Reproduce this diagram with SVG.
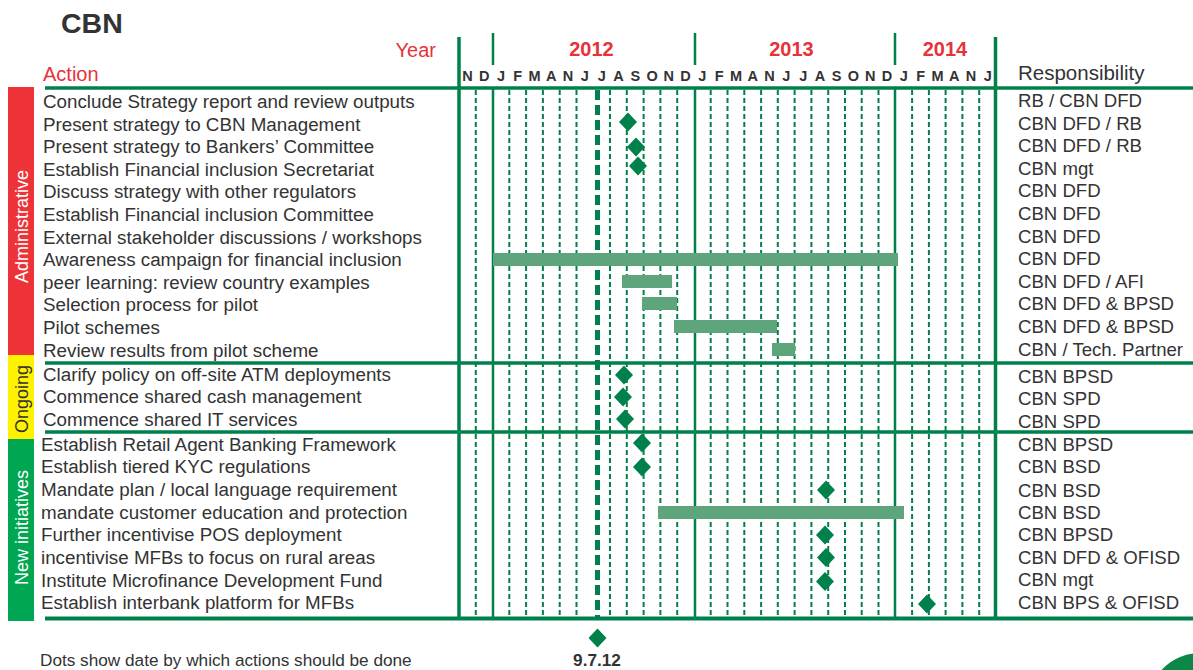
<svg xmlns="http://www.w3.org/2000/svg" width="1193" height="670" viewBox="0 0 1193 670">
  <style>
    text { font-family: "Liberation Sans", Arial, Helvetica, sans-serif; }
    .title { font-size: 28.5px; font-weight: bold; fill: #333333; }
    .hdr { font-size: 20px; fill: #e8323a; }
    .resph { font-size: 20.5px; fill: #333333; }
    .yr { font-size: 20px; font-weight: bold; fill: #e8323a; text-anchor: middle; }
    .mon { font-size: 14.5px; font-weight: bold; fill: #333333; text-anchor: middle; }
    .act { font-size: 18.8px; fill: #333333; }
    .resp { font-size: 18.6px; fill: #333333; }
    .band { font-size: 18px; text-anchor: middle; }
    .legend { font-size: 17.2px; fill: #333333; }
    .rule { stroke: #00804a; fill: none; }
    .grid { stroke: #00804a; stroke-width: 2; stroke-dasharray: 5 3; fill: none; }
    .today { stroke: #00804a; stroke-width: 5; stroke-dasharray: 10 5; fill: none; }
    .bar { fill: #5fa57b; }
    .ms { fill: #00804a; }
  </style>
  <defs>
    <path id="dia" d="M0,-9.5 L9,0 L0,9.5 L-9,0 Z"/>
  </defs>

  <rect width="1193" height="670" fill="#ffffff"/>

  <!-- title and column headers -->
  <g id="header">
    <text class="title" x="61" y="33">CBN</text>
    <text class="hdr" x="436" y="57" text-anchor="end">Year</text>
    <text class="hdr" x="43" y="81">Action</text>
    <text class="resph" x="1018" y="79.5">Responsibility</text>
    <text class="yr" x="591.5" y="56">2012</text>
    <text class="yr" x="791.5" y="56">2013</text>
    <text class="yr" x="945" y="56">2014</text>
    <text class="mon" y="80.5" x="467.4 484.2 501.0 517.7 534.5 551.3 568.1 584.9 601.7 618.5 635.3 652.1 668.8 685.6 702.4 719.2 736.0 752.8 769.6 786.4 803.2 819.9 836.7 853.5 870.3 887.1 903.9 920.7 937.5 954.3 971.0 987.8">NDJFMANJJASONDJFMANJJASONDJFMANJ</text>
  </g>

  <!-- category bands -->
  <g id="band-administrative">
    <rect x="8" y="87" width="26" height="268" fill="#ee3338"/>
    <text class="band" fill="#ffffff" transform="translate(28 226.5) rotate(-90)">Administrative</text>
  </g>
  <g id="band-ongoing">
    <rect x="8" y="355" width="26" height="84" fill="#fff200"/>
    <text class="band" fill="#333333" transform="translate(27.5 399) rotate(-90)">Ongoing</text>
  </g>
  <g id="band-new">
    <rect x="8" y="439" width="26" height="182" fill="#00a651"/>
    <text class="band" fill="#ffffff" transform="translate(27.5 527.5) rotate(-90)">New initiatives</text>
  </g>

  <!-- month grid -->
  <g id="grid">
    <g class="grid">
      <path d="M475.8,90V617 M509.3,90V617 M526.1,90V617 M542.9,90V617 M559.7,90V617 M576.5,90V617 M610.0,90V617 M626.8,90V617 M643.6,90V617 M660.4,90V617 M677.2,90V617 M710.7,90V617 M727.5,90V617 M744.3,90V617 M761.1,90V617 M777.8,90V617 M794.6,90V617 M811.4,90V617 M828.2,90V617 M845.0,90V617 M861.7,90V617 M878.5,90V617 M912.1,90V617 M928.9,90V617 M945.6,90V617 M962.4,90V617 M979.2,90V617"/>
    </g>
    <path class="today" d="M597.5,90V617"/>
    <g class="rule" stroke-width="2.5">
      <path d="M493,33V65 M695,33V65 M895,33V65"/>
      <path d="M493,88V618 M695,88V618 M895,88V618"/>
    </g>
    <g class="rule" stroke-width="3.5">
      <path d="M459,37V620 M995.5,37V620"/>
      <path d="M45,88H1193"/>
    </g>
    <g class="rule" stroke-width="3.3">
      <path d="M45,363H1193 M45,432H1193"/>
    </g>
    <path class="rule" stroke-width="4" d="M45,618.5H1193"/>
  </g>

  <!-- administrative actions -->
  <g id="row-01"><text class="act" x="43" y="108">Conclude Strategy report and review outputs</text><text class="resp" x="1018" y="107">RB / CBN DFD</text></g>
  <g id="row-02"><text class="act" x="43" y="130.6">Present strategy to CBN Management</text><text class="resp" x="1018" y="129.6">CBN DFD / RB</text><use href="#dia" class="ms" x="628" y="122"/></g>
  <g id="row-03"><text class="act" x="43" y="153.2">Present strategy to Bankers’ Committee</text><text class="resp" x="1018" y="152.2">CBN DFD / RB</text><use href="#dia" class="ms" x="636" y="147"/></g>
  <g id="row-04"><text class="act" x="43" y="175.8">Establish Financial inclusion Secretariat</text><text class="resp" x="1018" y="174.8">CBN mgt</text><use href="#dia" class="ms" x="638" y="166"/></g>
  <g id="row-05"><text class="act" x="43" y="198.4">Discuss strategy with other regulators</text><text class="resp" x="1018" y="197.4">CBN DFD</text></g>
  <g id="row-06"><text class="act" x="43" y="221">Establish Financial inclusion Committee</text><text class="resp" x="1018" y="220">CBN DFD</text></g>
  <g id="row-07"><text class="act" x="43" y="243.6">External stakeholder discussions / workshops</text><text class="resp" x="1018" y="242.6">CBN DFD</text></g>
  <g id="row-08"><text class="act" x="43" y="266.2">Awareness campaign for financial inclusion</text><text class="resp" x="1018" y="265.2">CBN DFD</text><rect class="bar" x="493" y="253" width="405" height="13"/></g>
  <g id="row-09"><text class="act" x="43" y="288.8">peer learning: review country examples</text><text class="resp" x="1018" y="287.8">CBN DFD / AFI</text><rect class="bar" x="622" y="275" width="50" height="13"/></g>
  <g id="row-10"><text class="act" x="43" y="311.4">Selection process for pilot</text><text class="resp" x="1018" y="310.4">CBN DFD &amp; BPSD</text><rect class="bar" x="642" y="297" width="35" height="13"/></g>
  <g id="row-11"><text class="act" x="43" y="334">Pilot schemes</text><text class="resp" x="1018" y="333">CBN DFD &amp; BPSD</text><rect class="bar" x="674" y="320" width="103" height="13"/></g>
  <g id="row-12"><text class="act" x="43" y="356.6">Review results from pilot scheme</text><text class="resp" x="1018" y="356">CBN / Tech. Partner</text><rect class="bar" x="772" y="343" width="23" height="13"/></g>

  <!-- ongoing actions -->
  <g id="row-13"><text class="act" x="43" y="380.7">Clarify policy on off-site ATM deployments</text><text class="resp" x="1018" y="382.5">CBN BPSD</text><use href="#dia" class="ms" x="624" y="375"/></g>
  <g id="row-14"><text class="act" x="43" y="403.3">Commence shared cash management</text><text class="resp" x="1018" y="405">CBN SPD</text><use href="#dia" class="ms" x="623" y="397"/></g>
  <g id="row-15"><text class="act" x="43" y="426">Commence shared IT services</text><text class="resp" x="1018" y="427.5">CBN SPD</text><use href="#dia" class="ms" x="625" y="419"/></g>

  <!-- new initiatives -->
  <g id="row-16"><text class="act" x="41" y="450.7">Establish Retail Agent Banking Framework</text><text class="resp" x="1018" y="450.7">CBN BPSD</text><use href="#dia" class="ms" x="642" y="443"/></g>
  <g id="row-17"><text class="act" x="41" y="473.3">Establish tiered KYC regulations</text><text class="resp" x="1018" y="473.3">CBN BSD</text><use href="#dia" class="ms" x="642" y="467"/></g>
  <g id="row-18"><text class="act" x="41" y="496">Mandate plan / local language requirement</text><text class="resp" x="1018" y="496.5">CBN BSD</text><use href="#dia" class="ms" x="826" y="490"/></g>
  <g id="row-19"><text class="act" x="41" y="518.7">mandate customer education and protection</text><text class="resp" x="1018" y="518.5">CBN BSD</text><rect class="bar" x="658" y="506" width="246" height="13"/></g>
  <g id="row-20"><text class="act" x="41" y="541.3">Further incentivise POS deployment</text><text class="resp" x="1018" y="541">CBN BPSD</text><use href="#dia" class="ms" x="825" y="535"/></g>
  <g id="row-21"><text class="act" x="41" y="564">incentivise MFBs to focus on rural areas</text><text class="resp" x="1018" y="563.5">CBN DFD &amp; OFISD</text><use href="#dia" class="ms" x="826" y="557.5"/></g>
  <g id="row-22"><text class="act" x="41" y="586.7">Institute Microfinance Development Fund</text><text class="resp" x="1018" y="586">CBN mgt</text><use href="#dia" class="ms" x="825" y="581.5"/></g>
  <g id="row-23"><text class="act" x="41" y="609.3">Establish interbank platform for MFBs</text><text class="resp" x="1018" y="609.3">CBN BPS &amp; OFISD</text><use href="#dia" class="ms" x="927" y="604"/></g>

  <!-- key -->
  <g id="legend">
    <use href="#dia" class="ms" x="597.5" y="638"/>
    <text class="legend" x="40" y="666">Dots show date by which actions should be done</text>
    <text class="legend" x="597" y="666" text-anchor="middle" font-weight="bold">9.7.12</text>
  </g>

  <!-- corner mark -->
  <circle cx="1200" cy="705" r="52" fill="#0b8845"/>
</svg>
